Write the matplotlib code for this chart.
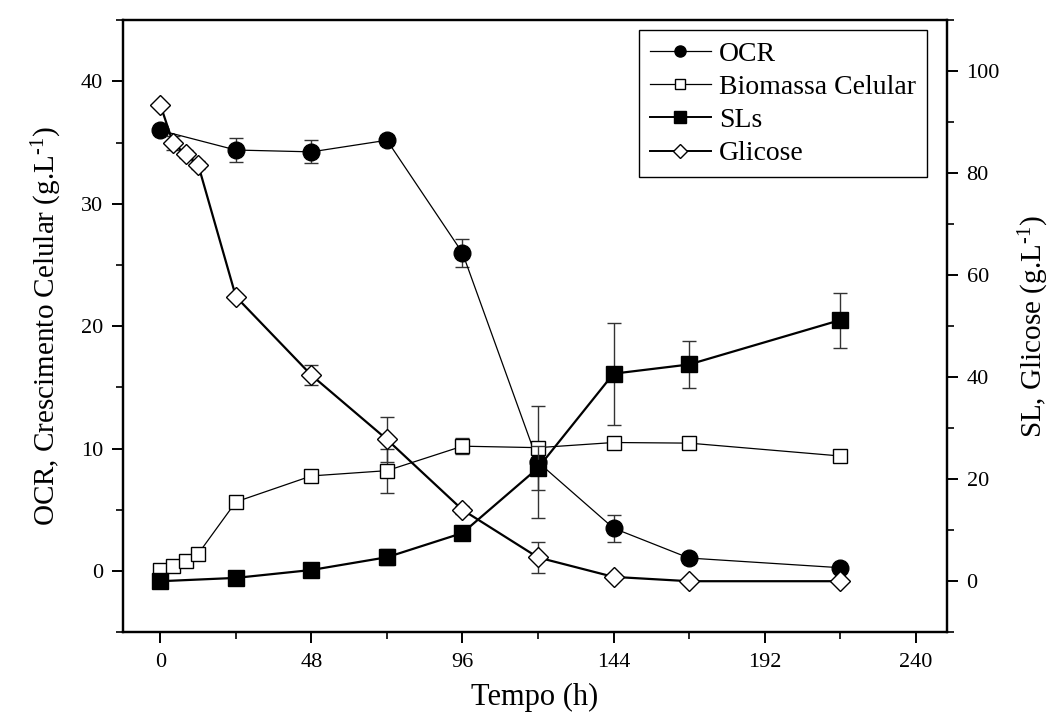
import numpy as np
import matplotlib
matplotlib.use('Agg')
import matplotlib.pyplot as plt
from matplotlib.ticker import MultipleLocator
from matplotlib.lines import Line2D

plt.rcParams['font.family'] = ['Liberation Serif', 'DejaVu Serif']
plt.rcParams['mathtext.fontset'] = 'custom'
plt.rcParams['mathtext.rm'] = 'Liberation Serif'
plt.rcParams['mathtext.it'] = 'Liberation Serif:italic'

# tempo (h)
t_all = [0, 4, 8, 12, 24, 48, 72, 96, 120, 144, 168, 216]
t_ocr = [0, 24, 48, 72, 96, 120, 144, 168, 216]

# eixo esquerdo (g/L)
ocr = [36.0, 34.4, 34.25, 35.2, 26.0, 8.9, 3.5, 1.06, 0.27]
ocr_err = [0.0, 1.0, 0.95, 0.4, 1.15, 4.55, 1.1, 0.0, 0.0]
biomassa = [0.1, 0.4, 0.85, 1.4, 5.65, 7.77, 8.2, 10.2, 10.08, 10.5, 10.45, 9.4]
biomassa_err = [0.0, 0.2, 0.2, 0.3, 0.3, 0.3, 1.8, 0.65, 0.3, 0.2, 0.2, 0.0]

# eixo direito (g/L)
sls = [0.0, 0.65, 2.2, 4.7, 9.45, 22.2, 40.7, 42.5, 51.2]
sls_err = [0.0, 0.0, 0.0, 1.6, 0.0, 4.3, 10.0, 4.6, 5.4]
glicose = [93.4, 86.0, 83.7, 81.7, 55.8, 40.4, 27.8, 14.0, 4.66, 0.85, 0.0, 0.0]
glicose_err = [0.0, 1.4, 0.8, 0.8, 0.6, 2.0, 4.5, 0.8, 3.0, 0.5, 0.0, 0.0]

labels = ['OCR', 'Biomassa Celular', 'SLs', 'Glicose']

fig = plt.figure(figsize=(10.57, 7.25), dpi=100)
ax = fig.add_axes([0.116, 0.128, 0.78, 0.844])
ax2 = ax.twinx()

eb = dict(ecolor='#333333', elinewidth=1.0, capsize=5, capthick=1.0)

ax.errorbar(t_ocr, ocr, yerr=ocr_err, color='black', lw=0.9, marker='o',
            ms=12, mfc='black', mec='black', **eb)
ax.errorbar(t_all, biomassa, yerr=biomassa_err, color='black', lw=0.9, marker='s',
            ms=10, mfc='white', mec='black', mew=1.0, **eb)
ax2.errorbar(t_ocr, sls, yerr=sls_err, color='black', lw=1.6, marker='s',
             ms=11, mfc='black', mec='black', **eb)
ax2.errorbar(t_all, glicose, yerr=glicose_err, color='black', lw=1.6, marker='D',
             ms=10, mfc='white', mec='black', mew=1.0, **eb)

ax.set_xlim(-12, 250)
ax.set_ylim(-5, 45)
ax2.set_ylim(-10, 110)

ax.xaxis.set_major_locator(MultipleLocator(48))
ax.xaxis.set_minor_locator(MultipleLocator(24))
ax.yaxis.set_major_locator(MultipleLocator(10))
ax.yaxis.set_minor_locator(MultipleLocator(5))
ax2.yaxis.set_major_locator(MultipleLocator(20))
ax2.yaxis.set_minor_locator(MultipleLocator(10))

for a in (ax, ax2):
    for s in a.spines.values():
        s.set_linewidth(1.6)
    a.tick_params(which='major', direction='out', length=8, width=1.4, labelsize=16)
    a.tick_params(which='minor', direction='out', length=5, width=1.2)
ax.tick_params(axis='x', pad=7)
ax.tick_params(axis='y', pad=6)
ax2.tick_params(axis='y', pad=6)

ax.set_xlabel('Tempo (h)', fontsize=22, labelpad=8)
ax.set_ylabel(r'OCR, Crescimento Celular (g.L$^{\text{-1}}$)', fontsize=21, labelpad=12)
ax2.set_ylabel(r'SL, Glicose (g.L$^{\text{-1}}$)', fontsize=21, labelpad=12)

# legenda sem barras de erro
handles = [
    Line2D([], [], color='black', lw=0.9, marker='o', ms=8, mfc='black', mec='black'),
    Line2D([], [], color='black', lw=0.9, marker='s', ms=7, mfc='white', mec='black'),
    Line2D([], [], color='black', lw=1.4, marker='s', ms=8, mfc='black', mec='black'),
    Line2D([], [], color='black', lw=1.4, marker='D', ms=7, mfc='white', mec='black'),
]
leg = ax2.legend(handles, labels, loc='upper right', bbox_to_anchor=(0.976, 0.984),
                 borderaxespad=0, fontsize=20, frameon=True, fancybox=False,
                 edgecolor='black', framealpha=1, handlelength=2.2, handletextpad=0.3,
                 borderpad=0.4, labelspacing=0.28)
leg.get_frame().set_linewidth(1.0)

fig.savefig('out.png', dpi=100)
